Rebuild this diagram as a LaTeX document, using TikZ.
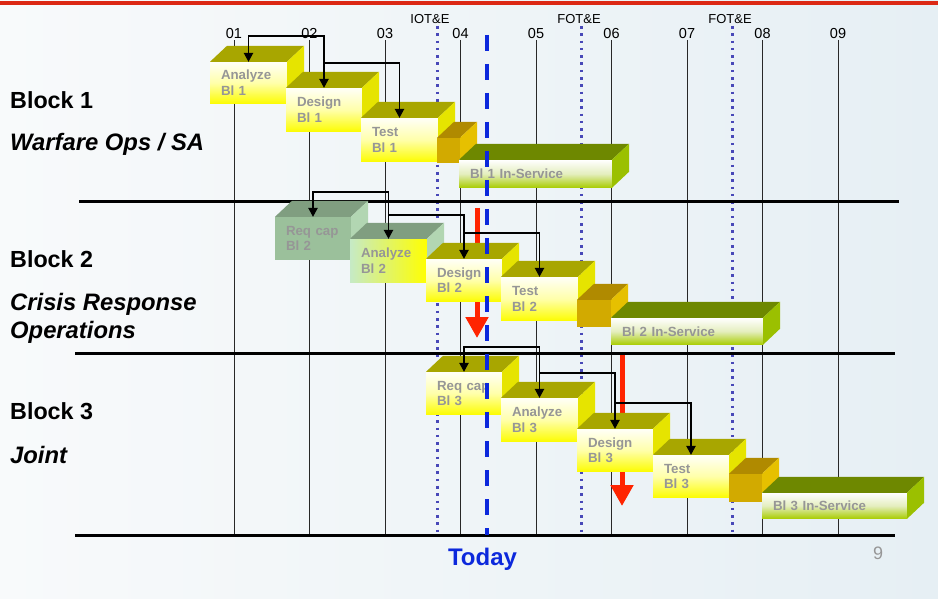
\documentclass[tikz,border=0pt]{standalone}
\usepackage{fontspec}
\setmainfont{Liberation Sans}
\usetikzlibrary{arrows.meta,calc}

\definecolor{olivetop}{RGB}{168,166,0}
\definecolor{yelside}{RGB}{230,228,0}
\definecolor{goldfront}{RGB}{210,170,0}
\definecolor{goldtop}{RGB}{176,138,0}
\definecolor{goldside}{RGB}{230,192,0}
\definecolor{istop}{RGB}{110,136,0}
\definecolor{isside}{RGB}{155,192,0}
\definecolor{isbot}{RGB}{168,204,0}
\definecolor{sagefront}{RGB}{155,192,155}
\definecolor{sagetop}{RGB}{128,158,128}
\definecolor{sageside}{RGB}{178,214,178}
\definecolor{lgreen}{RGB}{198,234,198}
\definecolor{txtgray}{RGB}{150,150,150}
\definecolor{dotblue}{RGB}{72,72,184}
\definecolor{todayblue}{RGB}{12,40,220}
\definecolor{arrred}{RGB}{255,36,0}
\definecolor{topred}{RGB}{220,40,20}
\definecolor{bgA}{RGB}{248,250,251}
\definecolor{bgB}{RGB}{230,239,244}
\definecolor{gridcol}{RGB}{40,40,40}

\newcommand{\tdbox}[9]{%
  \pgfmathsetmacro{\tdw}{max(#4-22,1)}%
  \node[#6, anchor=north west, inner xsep=11pt, inner ysep=0pt, outer sep=0pt,
        text width=\tdw pt, minimum height=#5pt, boxtext] (#1) at (#2,#3) {#9};
  \fill[#7] (#1.north west) -- ++(17,-16) -- ([shift={(17,-16)}]#1.north east) -- (#1.north east) -- cycle;
  \fill[#8] (#1.north east) -- ++(17,-16) -- ([shift={(17,-16)}]#1.south east) -- (#1.south east) -- cycle;
}

\begin{document}
\begin{tikzpicture}[x=1pt,y=-1pt,
  >={Triangle[length=9pt,width=9.5pt]},
  boxtext/.style={font=\fontsize{13.3}{15.5}\selectfont\bfseries, text=txtgray, align=left, yshift=-0.8pt},
  yfront/.style={top color={rgb,255:red,255;green,255;blue,248}, bottom color={rgb,255:red,252;green,252;blue,0}, middle color={rgb,255:red,255;green,255;blue,170}},
  gfront/.style={fill=goldfront},
  isfront/.style={top color=white, bottom color=isbot, middle color={rgb,255:red,228;green,238;blue,190}},
  sfront/.style={fill=sagefront},
  afront/.style={left color=lgreen, right color={rgb,255:red,255;green,255;blue,0}},
  conn/.style={draw=black, line width=1.1pt},
  redarr/.style={draw=arrred, line width=5pt, -{Triangle[length=21pt,width=22pt]}},
  sepline/.style={draw=black, line width=3pt},
  yearline/.style={draw=gridcol, line width=1pt},
  dotline/.style={draw=dotblue, line width=3pt, dash pattern=on 2.6pt off 4.7pt},
  todayline/.style={draw=todayblue, line width=3.3pt, dash pattern=on 16pt off 13pt},
  yearlab/.style={font=\fontsize{14.5}{16}\selectfont, anchor=base, inner sep=0pt},
  testlab/.style={font=\fontsize{13}{15}\selectfont, anchor=base, inner sep=0pt},
  blocklab/.style={font=\fontsize{23.3}{26}\selectfont\bfseries, anchor=base west, inner sep=0pt},
  blockit/.style={font=\fontsize{23.8}{26}\selectfont\bfseries\itshape, anchor=base west, inner sep=0pt}
]
\useasboundingbox (0,0) rectangle (938,599);
\shade[left color=bgA, right color=bgB] (0,0) rectangle (938,599);
\draw[topred, line width=3.3pt] (0,3) -- (938,3);

% year labels and lines
\foreach \n [count=\i from 0] in {01,02,03,04,05,06,07,08,09}{
  \pgfmathsetmacro{\xx}{234+75.5*\i}
  \node[yearlab] (y\n) at (\xx,38.5) {\n};
  \draw[yearline] (\xx,40) -- (\xx,535);
}
% test milestones
\node[testlab] (iot) at (430,24) {IOT\&E};
\node[testlab] (fot1) at (579,24) {FOT\&E};
\node[testlab] (fot2) at (730,24) {FOT\&E};
\draw[dotline] (437.5,26) -- (437.5,535);
\draw[dotline] (581,26) -- (581,535);
\draw[dotline] (732,26) -- (732,535);

% separators
\draw[sepline] (79,202) -- (899,202);
\draw[sepline] (75,353) -- (895,353);
\draw[sepline] (75,535) -- (895,535);

% red arrows (behind boxes)
\coordinate (r2a) at (477,208);
\coordinate (r2b) at (477,338);
\coordinate (r3a) at (622,355);
\coordinate (r3b) at (622,506);
\draw[redarr] (r2a) -- (r2b);
\draw[redarr] (r3a) -- (r3b);

% Block 1 boxes
\tdbox{an1}{210}{61}{77}{42}{yfront}{olivetop}{yelside}{Analyze\\Bl 1}
\tdbox{de1}{286}{87}{76}{44}{yfront}{olivetop}{yelside}{Design\\Bl 1}
\tdbox{te1}{361}{117}{77}{44}{yfront}{olivetop}{yelside}{Test\\Bl 1}
\tdbox{gd1}{437}{137}{23}{25}{gfront}{goldtop}{goldside}{}
\tdbox{is1}{459}{159}{153}{28}{isfront}{istop}{isside}{Bl 1 In-Service}
% Block 2 boxes
\tdbox{rq2}{275}{216}{76}{43}{sfront}{sagetop}{sageside}{Req cap\\Bl 2}
\tdbox{an2}{350}{238}{77}{44}{afront}{sagetop}{sageside}{Analyze\\Bl 2}
\tdbox{de2}{426}{258}{76}{43}{yfront}{olivetop}{yelside}{Design\\Bl 2}
\tdbox{te2}{501}{276}{77}{44}{yfront}{olivetop}{yelside}{Test\\Bl 2}
\tdbox{gd2}{577}{299}{34}{27}{gfront}{goldtop}{goldside}{}
\tdbox{is2}{611}{317}{152}{27}{isfront}{istop}{isside}{Bl 2 In-Service}
% Block 3 boxes
\tdbox{rq3}{426}{371}{76}{43}{yfront}{olivetop}{yelside}{Req cap\\Bl 3}
\tdbox{an3}{501}{397}{77}{44}{yfront}{olivetop}{yelside}{Analyze\\Bl 3}
\tdbox{de3}{577}{428}{76}{43}{yfront}{olivetop}{yelside}{Design\\Bl 3}
\tdbox{te3}{653}{454}{76}{43}{yfront}{olivetop}{yelside}{Test\\Bl 3}
\tdbox{gd3}{729}{473}{33}{28}{gfront}{goldtop}{goldside}{}
\tdbox{is3}{762}{492}{145}{26}{isfront}{istop}{isside}{Bl 3 In-Service}

% connectors
\coordinate (j1) at (0,36);
\coordinate (k1) at (0,63);
\draw[conn,<->] (an1.north) |- (de1.north |- j1) -- (de1.north);
\draw[conn,->] (de1.north |- k1) -| (te1.north);

\coordinate (j2) at (0,192);
\coordinate (k2) at (0,215);
\coordinate (m2) at (0,233);
\draw[conn,<->] (rq2.north) |- (an2.north |- j2) -- (an2.north);
\draw[conn,->] (an2.north |- k2) -| (de2.north);
\draw[conn,->] (de2.north |- m2) -| (te2.north);

\coordinate (j3) at (0,347);
\coordinate (k3) at (0,373);
\coordinate (m3) at (0,403);
\draw[conn,<->] (rq3.north) |- (an3.north |- j3) -- (an3.north);
\draw[conn,->] (an3.north |- k3) -| (de3.north);
\draw[conn,->] (de3.north |- m3) -| (te3.north);

% today line
\coordinate (td1) at (487,35);
\coordinate (td2) at (487,535);
\draw[todayline] (td1) -- (td2);
\node[font=\fontsize{24}{26}\selectfont\bfseries, text=todayblue, anchor=base, inner sep=0pt] (today) at (482.5,565) {Today};

% left labels
\node[blocklab] (b1) at (10,109) {Block 1};
\node[blockit] (b1t) at (10,151) {Warfare Ops / SA};
\node[blocklab] (b2) at (10,267) {Block 2};
\node[blockit] (b2t) at (10,310) {Crisis Response};
\node[blockit] (b2u) at (10,338) {Operations};
\node[blocklab] (b3) at (10,419) {Block 3};
\node[blockit] (b3t) at (10,463) {Joint};

% page number
\node[font=\fontsize{18}{20}\selectfont, text=txtgray, anchor=base, inner sep=0pt] (pg) at (878,559) {9};
\end{tikzpicture}
\end{document}
